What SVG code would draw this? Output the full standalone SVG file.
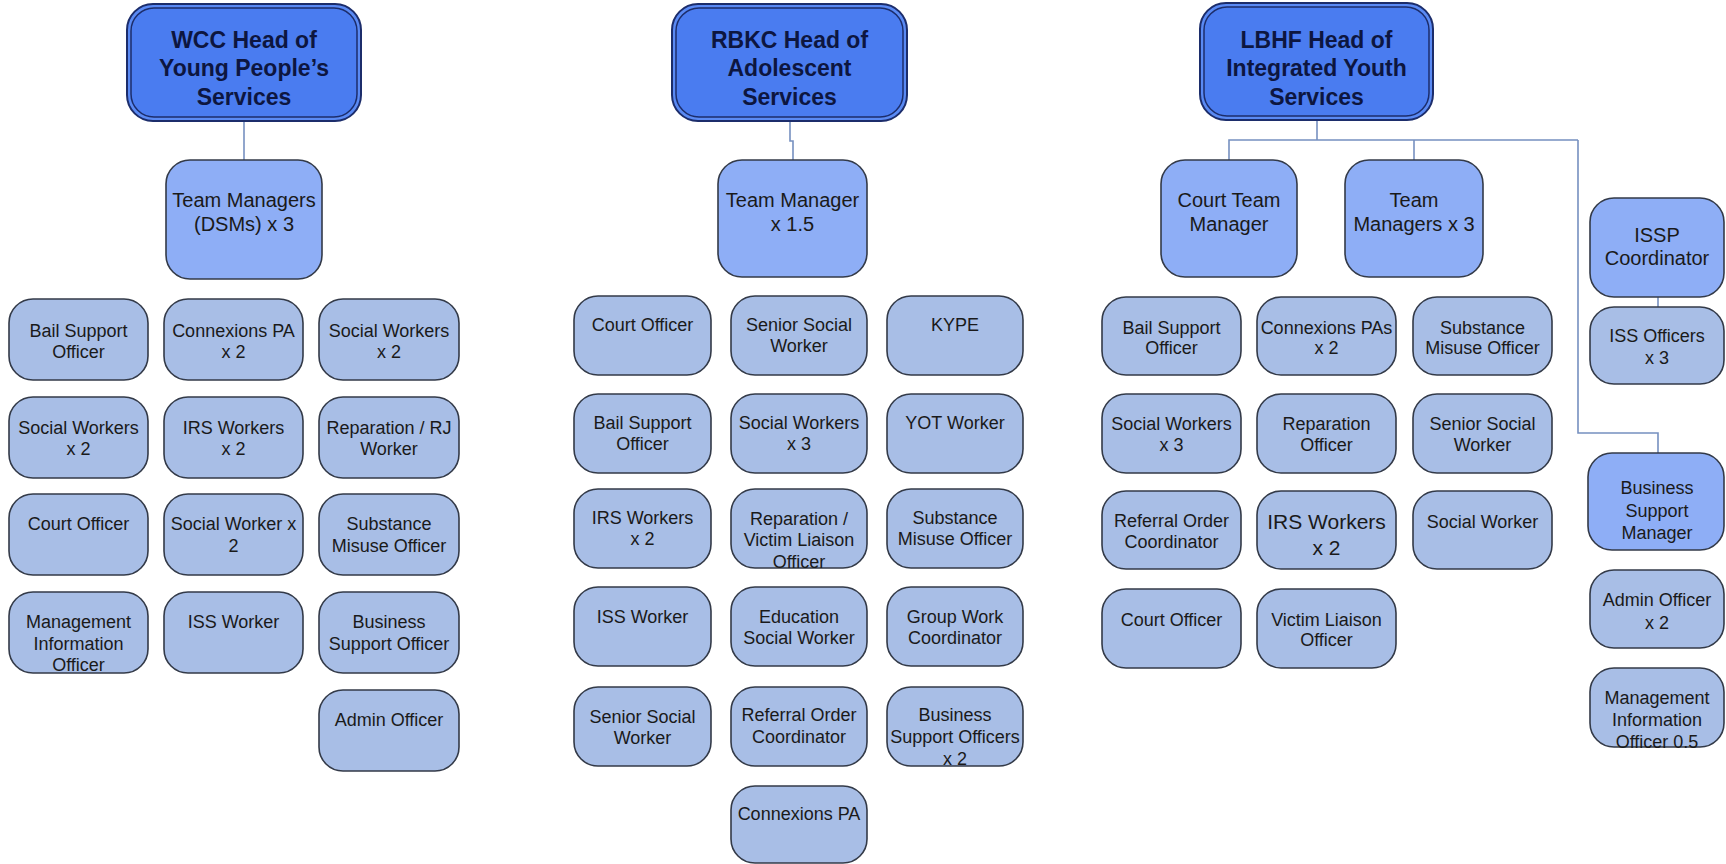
<svg xmlns="http://www.w3.org/2000/svg" width="1726" height="864" viewBox="0 0 1726 864">
<style>
.bg{fill:#ffffff}
.head-o{fill:#5a8af4;stroke:#1c2d6b;stroke-width:2}
.head-i{fill:#4a7cf0;stroke:#1c2d6b;stroke-width:1.5}
.mgr{fill:#8eaef6;stroke:#333a48;stroke-width:1.6}
.staff{fill:#a8bee6;stroke:#333a48;stroke-width:1.6}
.conn{fill:none;stroke:#7690c0;stroke-width:1.6}
text{font-family:"Liberation Sans",Arial,sans-serif;text-anchor:middle;fill:#1a1a1a}
.ht{font-size:23px;font-weight:bold;fill:#0d1640}
.mt{font-size:20px}
.st{font-size:18px}
.big{font-size:21px}
</style>
<rect class="bg" x="0" y="0" width="1726" height="864"/>
<g id="connectors">
<path class="conn" d="M244 121 V160"/>
<path class="conn" d="M790 121 V141 H793 V160"/>
<path class="conn" d="M1317 120 V140"/>
<path class="conn" d="M1229 160 V140 H1578"/>
<path class="conn" d="M1414 140 V160"/>
<path class="conn" d="M1578 140 V433 H1658 V453"/>
<path class="conn" d="M1658 297 V307"/>
</g>

<!-- WCC -->
<g id="wcc-head"><rect class="head-o" x="127" y="4" width="234" height="117" rx="26"/><rect class="head-i" x="131" y="8" width="226" height="109" rx="23"/>
<text class="ht" x="244" y="48">WCC Head of</text><text class="ht" x="244" y="76">Young People’s</text><text class="ht" x="244" y="105">Services</text></g>
<g id="wcc-tm"><rect class="mgr" x="166" y="160" width="156" height="119" rx="24"/><text class="mt" x="244" y="207">Team Managers</text><text class="mt" x="244" y="231">(DSMs) x 3</text></g>

<g id="wcc-bail"><rect class="staff" x="9" y="299" width="139" height="81" rx="24"/><text class="st" x="78.5" y="336.5">Bail Support</text><text class="st" x="78.5" y="358">Officer</text></g>
<g id="wcc-connexions"><rect class="staff" x="164" y="299" width="139" height="81" rx="24"/><text class="st" x="233.5" y="336.5">Connexions PA</text><text class="st" x="233.5" y="358">x 2</text></g>
<g id="wcc-sw1"><rect class="staff" x="319" y="299" width="140" height="81" rx="24"/><text class="st" x="389" y="336.5">Social Workers</text><text class="st" x="389" y="358">x 2</text></g>

<g id="wcc-sw2"><rect class="staff" x="9" y="397" width="139" height="81" rx="24"/><text class="st" x="78.5" y="433.5">Social Workers</text><text class="st" x="78.5" y="455">x 2</text></g>
<g id="wcc-irs"><rect class="staff" x="164" y="397" width="139" height="81" rx="24"/><text class="st" x="233.5" y="433.5">IRS Workers</text><text class="st" x="233.5" y="455">x 2</text></g>
<g id="wcc-rep"><rect class="staff" x="319" y="397" width="140" height="81" rx="24"/><text class="st" x="389" y="433.5">Reparation / RJ</text><text class="st" x="389" y="455">Worker</text></g>

<g id="wcc-court"><rect class="staff" x="9" y="494" width="139" height="81" rx="24"/><text class="st" x="78.5" y="530">Court Officer</text></g>
<g id="wcc-sw3"><rect class="staff" x="164" y="494" width="139" height="81" rx="24"/><text class="st" x="233.5" y="530">Social Worker x</text><text class="st" x="233.5" y="551.5">2</text></g>
<g id="wcc-subst"><rect class="staff" x="319" y="494" width="140" height="81" rx="24"/><text class="st" x="389" y="530">Substance</text><text class="st" x="389" y="551.5">Misuse Officer</text></g>

<g id="wcc-mio"><rect class="staff" x="9" y="592" width="139" height="81" rx="24"/><text class="st" x="78.5" y="628">Management</text><text class="st" x="78.5" y="649.5">Information</text><text class="st" x="78.5" y="671">Officer</text></g>
<g id="wcc-iss"><rect class="staff" x="164" y="592" width="139" height="81" rx="24"/><text class="st" x="233.5" y="628">ISS Worker</text></g>
<g id="wcc-bso"><rect class="staff" x="319" y="592" width="140" height="81" rx="24"/><text class="st" x="389" y="628">Business</text><text class="st" x="389" y="649.5">Support Officer</text></g>

<g id="wcc-admin"><rect class="staff" x="319" y="690" width="140" height="81" rx="24"/><text class="st" x="389" y="726">Admin Officer</text></g>

<!-- RBKC -->
<g id="rbkc-head"><rect class="head-o" x="672" y="4" width="235" height="117" rx="26"/><rect class="head-i" x="676" y="8" width="227" height="109" rx="23"/>
<text class="ht" x="789.5" y="48">RBKC Head of</text><text class="ht" x="789.5" y="76">Adolescent</text><text class="ht" x="789.5" y="105">Services</text></g>
<g id="rbkc-tm"><rect class="mgr" x="718" y="160" width="149" height="117" rx="24"/><text class="mt" x="792.5" y="207">Team Manager</text><text class="mt" x="792.5" y="231">x 1.5</text></g>

<g id="rbkc-court"><rect class="staff" x="574" y="296" width="137" height="79" rx="24"/><text class="st" x="642.5" y="330.5">Court Officer</text></g>
<g id="rbkc-ssw1"><rect class="staff" x="731" y="296" width="136" height="79" rx="24"/><text class="st" x="799" y="330.5">Senior Social</text><text class="st" x="799" y="352">Worker</text></g>
<g id="rbkc-kype"><rect class="staff" x="887" y="296" width="136" height="79" rx="24"/><text class="st" x="955" y="330.5">KYPE</text></g>

<g id="rbkc-bail"><rect class="staff" x="574" y="394" width="137" height="79" rx="24"/><text class="st" x="642.5" y="428.5">Bail Support</text><text class="st" x="642.5" y="450">Officer</text></g>
<g id="rbkc-sw"><rect class="staff" x="731" y="394" width="136" height="79" rx="24"/><text class="st" x="799" y="428.5">Social Workers</text><text class="st" x="799" y="450">x 3</text></g>
<g id="rbkc-yot"><rect class="staff" x="887" y="394" width="136" height="79" rx="24"/><text class="st" x="955" y="428.5">YOT Worker</text></g>

<g id="rbkc-irs"><rect class="staff" x="574" y="489" width="137" height="79" rx="24"/><text class="st" x="642.5" y="523.5">IRS Workers</text><text class="st" x="642.5" y="545">x 2</text></g>
<g id="rbkc-rep"><rect class="staff" x="731" y="489" width="136" height="79" rx="24"/><text class="st" x="799" y="524.5">Reparation /</text><text class="st" x="799" y="546">Victim Liaison</text><text class="st" x="799" y="567.5">Officer</text></g>
<g id="rbkc-subst"><rect class="staff" x="887" y="489" width="136" height="79" rx="24"/><text class="st" x="955" y="523.5">Substance</text><text class="st" x="955" y="545">Misuse Officer</text></g>

<g id="rbkc-iss"><rect class="staff" x="574" y="587" width="137" height="79" rx="24"/><text class="st" x="642.5" y="622.5">ISS Worker</text></g>
<g id="rbkc-esw"><rect class="staff" x="731" y="587" width="136" height="79" rx="24"/><text class="st" x="799" y="622.5">Education</text><text class="st" x="799" y="644">Social Worker</text></g>
<g id="rbkc-group"><rect class="staff" x="887" y="587" width="136" height="79" rx="24"/><text class="st" x="955" y="622.5">Group Work</text><text class="st" x="955" y="644">Coordinator</text></g>

<g id="rbkc-ssw2"><rect class="staff" x="574" y="687" width="137" height="79" rx="24"/><text class="st" x="642.5" y="722.5">Senior Social</text><text class="st" x="642.5" y="744">Worker</text></g>
<g id="rbkc-roc"><rect class="staff" x="731" y="687" width="136" height="79" rx="24"/><text class="st" x="799" y="721">Referral Order</text><text class="st" x="799" y="743">Coordinator</text></g>
<g id="rbkc-bso"><rect class="staff" x="887" y="687" width="136" height="79" rx="24"/><text class="st" x="955" y="721">Business</text><text class="st" x="955" y="743">Support Officers</text><text class="st" x="955" y="764.5">x 2</text></g>

<g id="rbkc-connexions"><rect class="staff" x="731" y="786" width="136" height="77" rx="24"/><text class="st" x="799" y="819.5">Connexions PA</text></g>

<!-- LBHF -->
<g id="lbhf-head"><rect class="head-o" x="1200" y="3" width="233" height="117" rx="26"/><rect class="head-i" x="1204" y="7" width="225" height="109" rx="23"/>
<text class="ht" x="1316.5" y="48">LBHF Head of</text><text class="ht" x="1316.5" y="76">Integrated Youth</text><text class="ht" x="1316.5" y="105">Services</text></g>
<g id="lbhf-ctm"><rect class="mgr" x="1161" y="160" width="136" height="117" rx="24"/><text class="mt" x="1229" y="207">Court Team</text><text class="mt" x="1229" y="231">Manager</text></g>
<g id="lbhf-tm"><rect class="mgr" x="1345" y="160" width="138" height="117" rx="24"/><text class="mt" x="1414" y="207">Team</text><text class="mt" x="1414" y="231">Managers x 3</text></g>

<g id="lbhf-bail"><rect class="staff" x="1102" y="297" width="139" height="78" rx="24"/><text class="st" x="1171.5" y="333.5">Bail Support</text><text class="st" x="1171.5" y="354">Officer</text></g>
<g id="lbhf-connexions"><rect class="staff" x="1257" y="297" width="139" height="78" rx="24"/><text class="st" x="1326.5" y="333.5">Connexions PAs</text><text class="st" x="1326.5" y="354">x 2</text></g>
<g id="lbhf-subst"><rect class="staff" x="1413" y="297" width="139" height="78" rx="24"/><text class="st" x="1482.5" y="333.5">Substance</text><text class="st" x="1482.5" y="354">Misuse Officer</text></g>

<g id="lbhf-sw"><rect class="staff" x="1102" y="394" width="139" height="79" rx="24"/><text class="st" x="1171.5" y="429.5">Social Workers</text><text class="st" x="1171.5" y="451">x 3</text></g>
<g id="lbhf-rep"><rect class="staff" x="1257" y="394" width="139" height="79" rx="24"/><text class="st" x="1326.5" y="429.5">Reparation</text><text class="st" x="1326.5" y="451">Officer</text></g>
<g id="lbhf-ssw"><rect class="staff" x="1413" y="394" width="139" height="79" rx="24"/><text class="st" x="1482.5" y="429.5">Senior Social</text><text class="st" x="1482.5" y="451">Worker</text></g>

<g id="lbhf-roc"><rect class="staff" x="1102" y="491" width="139" height="78" rx="24"/><text class="st" x="1171.5" y="526.5">Referral Order</text><text class="st" x="1171.5" y="548">Coordinator</text></g>
<g id="lbhf-irs"><rect class="staff" x="1257" y="491" width="139" height="78" rx="24"/><text class="big" x="1326.5" y="528.5">IRS Workers</text><text class="big" x="1326.5" y="554.5">x 2</text></g>
<g id="lbhf-sw1"><rect class="staff" x="1413" y="491" width="139" height="78" rx="24"/><text class="st" x="1482.5" y="527.5">Social Worker</text></g>

<g id="lbhf-court"><rect class="staff" x="1102" y="589" width="139" height="79" rx="24"/><text class="st" x="1171.5" y="625.5">Court Officer</text></g>
<g id="lbhf-vlo"><rect class="staff" x="1257" y="589" width="139" height="79" rx="24"/><text class="st" x="1326.5" y="625.5">Victim Liaison</text><text class="st" x="1326.5" y="646">Officer</text></g>

<g id="lbhf-issp"><rect class="mgr" x="1590" y="198" width="134" height="99" rx="24"/><text class="mt" x="1657" y="242">ISSP</text><text class="mt" x="1657" y="265">Coordinator</text></g>
<g id="lbhf-isso"><rect class="staff" x="1590" y="307" width="134" height="77" rx="24"/><text class="st" x="1657" y="341.5">ISS Officers</text><text class="st" x="1657" y="363.5">x 3</text></g>
<g id="lbhf-bsm"><rect class="mgr" x="1588" y="453" width="136" height="97" rx="24"/><text class="st" x="1657" y="493.5">Business</text><text class="st" x="1657" y="516.5">Support</text><text class="st" x="1657" y="538.5">Manager</text></g>
<g id="lbhf-admin"><rect class="staff" x="1590" y="570" width="134" height="78" rx="24"/><text class="st" x="1657" y="605.5">Admin Officer</text><text class="st" x="1657" y="628.5">x 2</text></g>
<g id="lbhf-mio"><rect class="staff" x="1590" y="668" width="134" height="79" rx="24"/><text class="st" x="1657" y="703.5">Management</text><text class="st" x="1657" y="725.5">Information</text><text class="st" x="1657" y="747.5">Officer 0.5</text></g>
</svg>
